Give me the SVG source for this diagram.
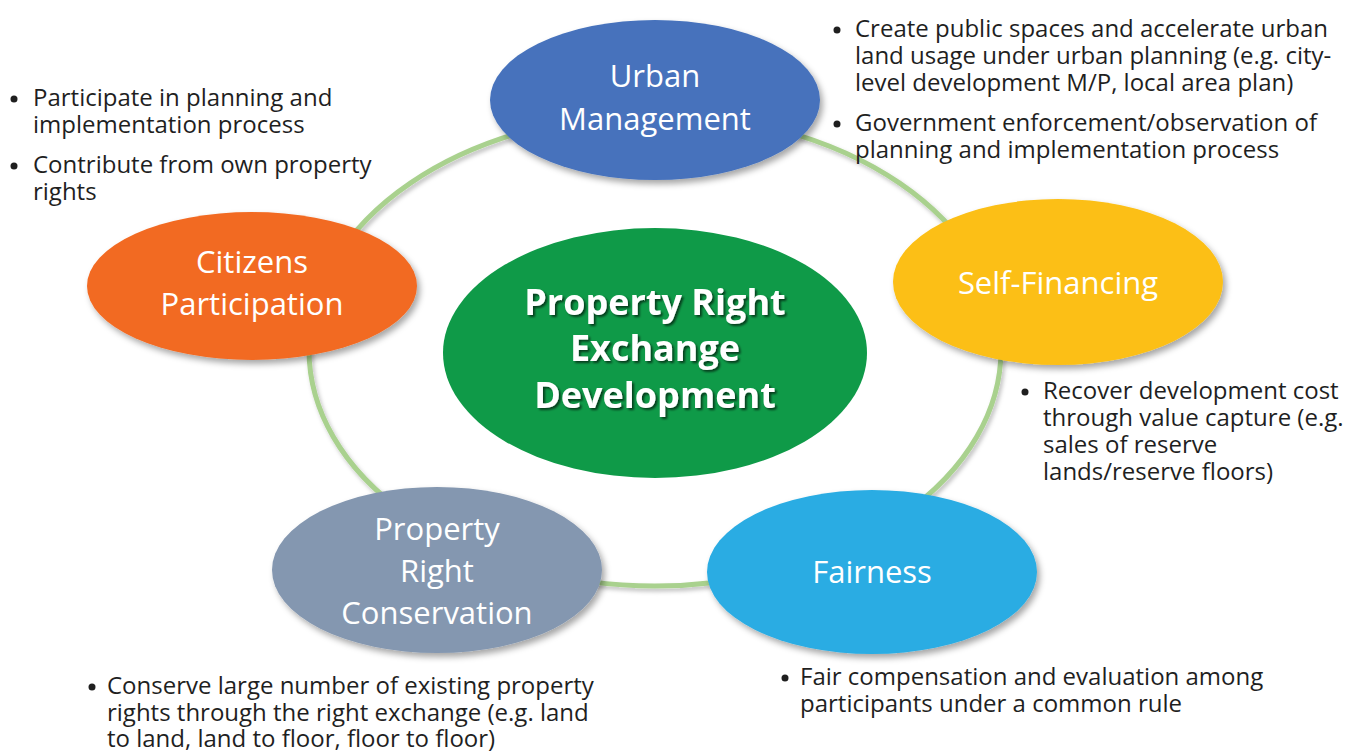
<svg xmlns="http://www.w3.org/2000/svg" width="1363" height="751" viewBox="0 0 1363 751">
<defs>
<filter id="sh" x="-20%" y="-20%" width="140%" height="150%">
<feDropShadow dx="3" dy="4" stdDeviation="3" flood-color="#000" flood-opacity="0.35"/>
</filter>
<filter id="rs" x="-10%" y="-10%" width="120%" height="120%">
<feDropShadow dx="2" dy="3" stdDeviation="2" flood-color="#000" flood-opacity="0.25"/>
</filter>
<filter id="ts" x="-10%" y="-10%" width="120%" height="130%">
<feDropShadow dx="2" dy="2" stdDeviation="1" flood-color="#000" flood-opacity="0.6"/>
</filter>
<style>
.nt{font-family:"Open Sans","Noto Sans",sans-serif;font-size:31px;fill:#fff;text-anchor:middle}
.ct{font-family:"Open Sans","Noto Sans",sans-serif;font-size:36px;font-weight:bold;fill:#fff;text-anchor:middle}
.bt{font-family:"Open Sans","Noto Sans",sans-serif;font-size:24px;fill:#1f1f1f}
.bu{fill:#1f1f1f}
</style>
</defs>
<rect width="1363" height="751" fill="#fff"/>
<g id="connectors">
<ellipse cx="655" cy="350" rx="346" ry="236" fill="none" stroke="#A9D18E" stroke-width="5" filter="url(#rs)"/>
</g>
<g id="center">
<ellipse cx="655" cy="353" rx="212" ry="125" fill="#0F9A48"/>
<g filter="url(#ts)">
<text class="ct" x="655" y="315">Property Right</text>
<text class="ct" x="655" y="361">Exchange</text>
<text class="ct" x="655" y="408">Development</text>
</g>
</g>
<g id="urban">
<ellipse cx="655" cy="100" rx="165" ry="80" fill="#4672BC" filter="url(#sh)"/>
<text class="nt" x="655" y="87">Urban</text>
<text class="nt" x="655" y="130">Management</text>
</g>
<g id="selffinancing">
<ellipse cx="1058" cy="282" rx="165" ry="83" fill="#FCBF14" filter="url(#sh)"/>
<text class="nt" x="1058" y="294">Self-Financing</text>
</g>
<g id="fairness">
<ellipse cx="872" cy="572" rx="165" ry="82" fill="#2AACE3" filter="url(#sh)"/>
<text class="nt" x="872" y="583">Fairness</text>
</g>
<g id="conservation">
<ellipse cx="437" cy="570" rx="165" ry="83" fill="#8497B0" filter="url(#sh)"/>
<text class="nt" x="437" y="540">Property</text>
<text class="nt" x="437" y="582">Right</text>
<text class="nt" x="437" y="624">Conservation</text>
</g>
<g id="citizens">
<ellipse cx="252" cy="286" rx="165" ry="74" fill="#F26A22" filter="url(#sh)"/>
<text class="nt" x="252" y="273">Citizens</text>
<text class="nt" x="252" y="315">Participation</text>
</g>
<g id="notes-citizens">
<circle class="bu" cx="14" cy="99" r="3.5"/>
<text class="bt" x="33" y="106">Participate in planning and</text>
<text class="bt" x="33" y="133">implementation process</text>
<circle class="bu" cx="14" cy="166" r="3.5"/>
<text class="bt" x="33" y="173">Contribute from own property</text>
<text class="bt" x="33" y="200">rights</text>
</g>
<g id="notes-urban">
<circle class="bu" cx="837" cy="30" r="3.5"/>
<text class="bt" x="855" y="37">Create public spaces and accelerate urban</text>
<text class="bt" x="855" y="64">land usage under urban planning (e.g. city-</text>
<text class="bt" x="855" y="91">level development M/P, local area plan)</text>
<circle class="bu" cx="837" cy="124" r="3.5"/>
<text class="bt" x="855" y="131">Government enforcement/observation of</text>
<text class="bt" x="855" y="158">planning and implementation process</text>
</g>
<g id="notes-self">
<circle class="bu" cx="1025" cy="392" r="3.5"/>
<text class="bt" x="1043" y="399">Recover development cost</text>
<text class="bt" x="1043" y="426">through value capture (e.g.</text>
<text class="bt" x="1043" y="453">sales of reserve</text>
<text class="bt" x="1043" y="480">lands/reserve floors)</text>
</g>
<g id="notes-fair">
<circle class="bu" cx="785" cy="678" r="3.5"/>
<text class="bt" x="800" y="685">Fair compensation and evaluation among</text>
<text class="bt" x="800" y="712">participants under a common rule</text>
</g>
<g id="notes-conservation">
<circle class="bu" cx="92" cy="687" r="3.5"/>
<text class="bt" x="107" y="694">Conserve large number of existing property</text>
<text class="bt" x="107" y="721">rights through the right exchange (e.g. land</text>
<text class="bt" x="107" y="747">to land, land to floor, floor to floor)</text>
</g>
</svg>
